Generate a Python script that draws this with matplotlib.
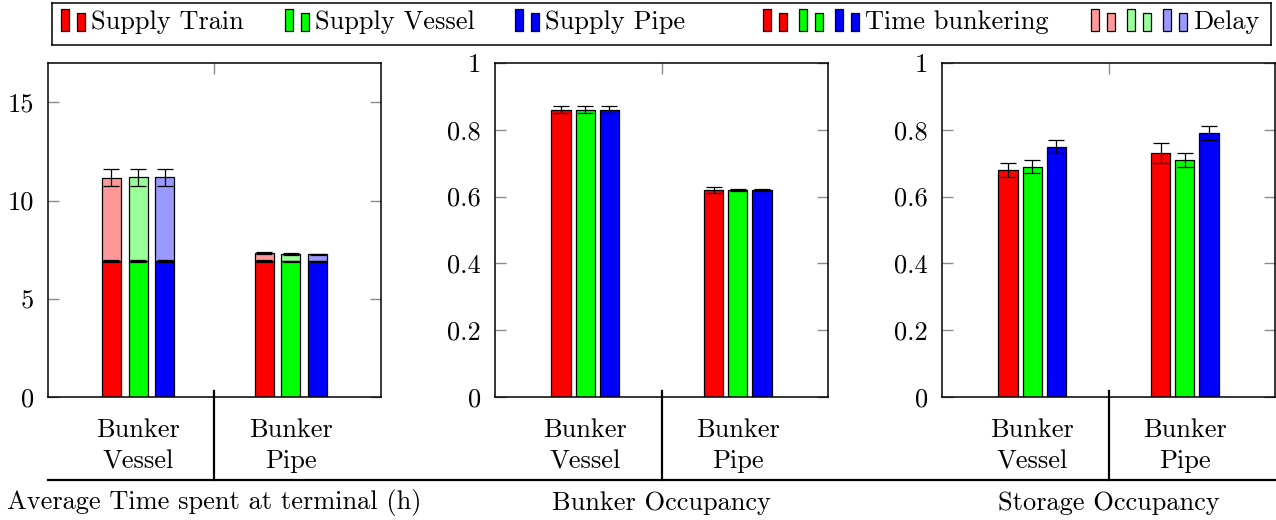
import matplotlib
matplotlib.use("Agg")
import matplotlib.pyplot as plt
from matplotlib.lines import Line2D
from matplotlib.patches import Rectangle
import matplotlib.transforms as mtransforms

# ---- data ----
groups = ["Bunker\nVessel", "Bunker\nPipe"]
series = ["Supply Train", "Supply Vessel", "Supply Pipe"]

# average time spent at terminal (h): stacked bunkering + delay
time_bunkering = [[6.9, 6.9], [6.9, 6.9], [6.9, 6.9]]
time_bunkering_err = [[0.05, 0.05], [0.05, 0.04], [0.05, 0.04]]
delay = [[4.27, 0.41], [4.28, 0.38], [4.28, 0.37]]
delay_err = [[0.43, 0.05], [0.43, 0.03], [0.43, 0.03]]

bunker_occ = [[0.86, 0.62], [0.86, 0.62], [0.86, 0.62]]
bunker_occ_err = [[0.01, 0.01], [0.01, 0.002], [0.01, 0.002]]

storage_occ = [[0.68, 0.73], [0.69, 0.71], [0.75, 0.79]]
storage_occ_err = [[0.02, 0.03], [0.02, 0.02], [0.02, 0.02]]

titles = ["Average Time spent at terminal (h)", "Bunker Occupancy", "Storage Occupancy"]

# ---- style ----
colors = ["#ff0000", "#00ff00", "#0000ff"]
light = ["#ff9999", "#99ff99", "#9999ff"]
FS = 19
plt.rcParams["font.family"] = ["cmr10", "DejaVu Serif"]
plt.rcParams["axes.formatter.use_mathtext"] = True
plt.rcParams["mathtext.fontset"] = "cm"

W, H = 1276, 520
fig = plt.figure(figsize=(W / 100, H / 100), dpi=100)

ax_px = [(48, 381), (495, 828), (942, 1275)]
top_px, bot_px = 63, 397
axes = []
for l, r in ax_px:
    axes.append(fig.add_axes([l / W, 1 - bot_px / H, (r - l) / W, (bot_px - top_px) / H]))

bar_w = 0.125
offsets = [0.175, 0.158, 0.158]
ebar_kw = dict(ecolor="black", elinewidth=0.9, capsize=6, capthick=0.9)
bar_kw = dict(edgecolor="black", linewidth=0.9)


def setup(ax, ylim, yticks, ylabels, title):
    ax.set_xlim(-0.59, 1.59)
    ax.set_ylim(*ylim)
    ax.set_yticks(yticks)
    ax.set_yticklabels(ylabels, fontsize=FS)
    ax.tick_params(axis="y", direction="in", length=8, width=1, color="0.55",
                   left=True, right=True, pad=10)
    ax.set_xticks(range(len(groups)))
    ax.set_xticklabels(groups, fontsize=FS, linespacing=1.42)
    ax.tick_params(axis="x", length=0, pad=15)
    ax.set_xticks([0.5], minor=True)
    ax.tick_params(axis="x", which="minor", direction="in", top=True, bottom=False,
                   length=8, width=1, color="0.55")
    for s in ax.spines.values():
        s.set_linewidth(1.1)
    trans = mtransforms.blended_transform_factory(ax.transData, ax.transAxes)
    ax.plot([0.5, 0.5], [0.018, -0.249], color="black", lw=1.6,
            transform=trans, clip_on=False)
    ax.text(0.5, -0.317, title, transform=trans, ha="center", va="center", fontsize=FS)


# panel 1: stacked time
ax = axes[0]
for i in range(3):
    xs = [g + (i - 1) * offsets[0] for g in range(len(groups))]
    ax.bar(xs, time_bunkering[i], bar_w, color=colors[i], yerr=time_bunkering_err[i],
           error_kw=ebar_kw, **bar_kw, zorder=2)
    ax.bar(xs, delay[i], bar_w, bottom=time_bunkering[i], color=light[i],
           yerr=delay_err[i], error_kw=ebar_kw, **bar_kw, zorder=2)
setup(ax, (0, 17), [0, 5, 10, 15], ["0", "5", "10", "15"], titles[0])

occ_ticks = [0, 0.2, 0.4, 0.6, 0.8, 1]
occ_labels = ["0", "0.2", "0.4", "0.6", "0.8", "1"]
for k, (vals, errs) in enumerate([(bunker_occ, bunker_occ_err), (storage_occ, storage_occ_err)], start=1):
    ax = axes[k]
    for i in range(3):
        xs = [g + (i - 1) * offsets[k] for g in range(len(groups))]
        ax.bar(xs, vals[i], bar_w, color=colors[i], yerr=errs[i],
               error_kw=ebar_kw, **bar_kw, zorder=2)
    setup(ax, (0, 1), occ_ticks, occ_labels, titles[k])

# horizontal rule under the group labels
fig.add_artist(Line2D([48 / W, 1.0], [1 - 480 / H] * 2, color="black", lw=1.6))

# ---- legend (drawn by hand, pgfplots style) ----
lax = fig.add_axes([52 / W, 1 - 45 / H, (1271 - 52) / W, 42 / H])
lax.set_xlim(52, 1271)
lax.set_ylim(45, 3)
lax.set_xticks([])
lax.set_yticks([])
for s in lax.spines.values():
    s.set_linewidth(1.1)

legend_entries = [
    (61, [colors[0]], "Supply Train"),
    (285, [colors[1]], "Supply Vessel"),
    (515, [colors[2]], "Supply Pipe"),
    (763, colors, "Time bunkering"),
    (1091, light, "Delay"),
]
for x0, cols, label in legend_entries:
    x = x0
    for c in cols:
        lax.add_patch(Rectangle((x, 9), 8, 22, facecolor=c, edgecolor="black", lw=0.9))
        lax.add_patch(Rectangle((x + 16, 13), 8, 18, facecolor=c, edgecolor="black", lw=0.9))
        x += 36
    lax.text(x - 36 + 30, 22, label, ha="left", va="center", fontsize=FS)

fig.savefig("out.png", dpi=100)
